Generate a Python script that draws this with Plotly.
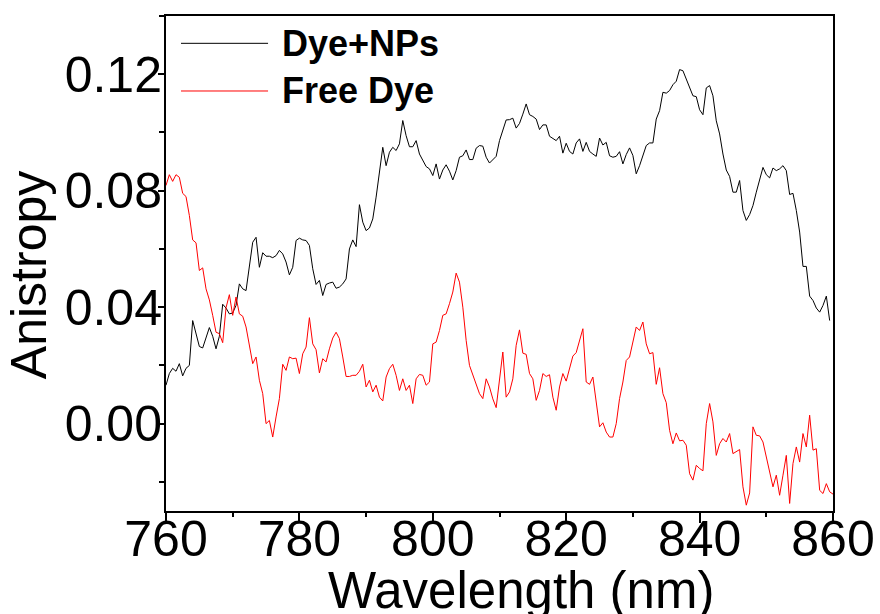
import plotly.graph_objects as go

# Anisotropy spectra sampled every 0.5 nm from 760 nm
wl_start = 760.0
wl_step = 0.5

dye_nps = [
    0.0132, 0.0172, 0.0190, 0.0180, 0.0206, 0.0164, 0.0190, 0.0200, 0.0354, 0.0310,
    0.0265, 0.0260, 0.0297, 0.0330, 0.0300, 0.0257, 0.0300, 0.0410, 0.0397, 0.0377,
    0.0380, 0.0406, 0.0480, 0.0463, 0.0457, 0.0550, 0.0623, 0.0640, 0.0537, 0.0587,
    0.0575, 0.0575, 0.0570, 0.0577, 0.0595, 0.0583, 0.0555, 0.0511, 0.0537, 0.0629,
    0.0637, 0.0631, 0.0629, 0.0612, 0.0532, 0.0478, 0.0492, 0.0440, 0.0478, 0.0483,
    0.0486, 0.0465, 0.0469, 0.0480, 0.0497, 0.0600, 0.0631, 0.0608, 0.0752, 0.0692,
    0.0663, 0.0672, 0.0703, 0.0778, 0.0869, 0.0949, 0.0886, 0.0932, 0.0949, 0.0938,
    0.0961, 0.1041, 0.0989, 0.0951, 0.0951, 0.0972, 0.0926, 0.0906, 0.0883, 0.0875,
    0.0852, 0.0892, 0.0840, 0.0871, 0.0889, 0.0867, 0.0837, 0.0869, 0.0915, 0.0920,
    0.0940, 0.0907, 0.0907, 0.0946, 0.0955, 0.0953, 0.0915, 0.0895, 0.0906, 0.0918,
    0.0972, 0.1012, 0.1043, 0.1044, 0.1049, 0.1015, 0.1031, 0.1063, 0.1098, 0.1061,
    0.1055, 0.1046, 0.1010, 0.1026, 0.1026, 0.0987, 0.0978, 0.0972, 0.0987, 0.0929,
    0.0963, 0.0935, 0.0926, 0.0964, 0.0978, 0.0935, 0.0966, 0.0935, 0.0926, 0.0918,
    0.0981, 0.0957, 0.0966, 0.0920, 0.0915, 0.0918, 0.0934, 0.0892, 0.0924, 0.0947,
    0.0921, 0.0858, 0.0886, 0.0921, 0.0955, 0.0964, 0.0964, 0.1046, 0.1075, 0.1138,
    0.1135, 0.1144, 0.1164, 0.1176, 0.1216, 0.1212, 0.1184, 0.1153, 0.1126, 0.1123,
    0.1078, 0.1061, 0.1153, 0.1161, 0.1126, 0.1040, 0.0995, 0.0926, 0.0871, 0.0849,
    0.0795, 0.0795, 0.0835, 0.0732, 0.0698, 0.0718, 0.0749, 0.0795, 0.0840, 0.0880,
    0.0855, 0.0844, 0.0878, 0.0869, 0.0875, 0.0886, 0.0869, 0.0787, 0.0791, 0.0732,
    0.0658, 0.0540, 0.0540, 0.0438, 0.0423, 0.0397, 0.0383, 0.0406, 0.0438, 0.0354,
]

free_dye = [
    0.0818, 0.0855, 0.0832, 0.0855, 0.0846, 0.0791, 0.0780, 0.0715, 0.0631, 0.0621,
    0.0526, 0.0535, 0.0463, 0.0425, 0.0372, 0.0314, 0.0309, 0.0278, 0.0398, 0.0443,
    0.0372, 0.0435, 0.0377, 0.0369, 0.0332, 0.0274, 0.0206, 0.0229, 0.0149, 0.0103,
    0.0000, 0.0011, -0.0046, 0.0023, 0.0086, 0.0204, 0.0183, 0.0229, 0.0223, 0.0225,
    0.0172, 0.0240, 0.0263, 0.0364, 0.0274, 0.0254, 0.0174, 0.0223, 0.0212, 0.0257,
    0.0294, 0.0314, 0.0292, 0.0229, 0.0162, 0.0162, 0.0166, 0.0166, 0.0180, 0.0204,
    0.0126, 0.0149, 0.0109, 0.0132, 0.0091, 0.0078, 0.0160, 0.0189, 0.0204, 0.0166,
    0.0114, 0.0154, 0.0114, 0.0132, 0.0069, 0.0154, 0.0169, 0.0166, 0.0132, 0.0143,
    0.0274, 0.0280, 0.0320, 0.0372, 0.0377, 0.0412, 0.0452, 0.0517, 0.0486, 0.0400,
    0.0286, 0.0200, 0.0166, 0.0132, 0.0103, 0.0086, 0.0154, 0.0126, 0.0085, 0.0055,
    0.0150, 0.0246, 0.0091, 0.0109, 0.0154, 0.0269, 0.0322, 0.0242, 0.0238, 0.0172,
    0.0154, 0.0080, 0.0114, 0.0172, 0.0162, 0.0168, 0.0091, 0.0046, 0.0126, 0.0172,
    0.0146, 0.0194, 0.0232, 0.0244, 0.0286, 0.0326, 0.0143, 0.0135, 0.0160, 0.0074,
    -0.0011, 0.0003, -0.0029, -0.0046, -0.0046, 0.0000, 0.0086, 0.0143, 0.0217, 0.0229,
    0.0286, 0.0332, 0.0320, 0.0349, 0.0274, 0.0240, 0.0244, 0.0135, 0.0192, 0.0103,
    0.0072, -0.0023, -0.0069, -0.0032, -0.0059, -0.0057, -0.0074, -0.0172, -0.0194, -0.0143,
    -0.0154, -0.0162, 0.0000, 0.0069, 0.0006, -0.0109, -0.0069, -0.0051, -0.0063, -0.0034,
    -0.0103, -0.0097, -0.0089, -0.0217, -0.0280, -0.0238, -0.0011, -0.0040, -0.0042, -0.0063,
    -0.0114, -0.0166, -0.0217, -0.0177, -0.0246, -0.0177, -0.0109, -0.0274, -0.0137, -0.0080,
    -0.0132, -0.0034, -0.0080, 0.0029, -0.0091, -0.0086, -0.0229, -0.0240, -0.0206, -0.0234,
    -0.0242,
]

x_ticks = [760, 780, 800, 820, 840, 860]
y_ticks = [0.00, 0.04, 0.08, 0.12]
series_names = ["Dye+NPs", "Free Dye"]
series_colors = ["#000000", "#ff0000"]

wl_nps = [wl_start + wl_step * i for i in range(len(dye_nps))]
wl_free = [wl_start + wl_step * i for i in range(len(free_dye))]

FONT = "Liberation Sans, Arial, sans-serif"

fig = go.Figure()
for xs, ys, name, color in zip([wl_nps, wl_free], [dye_nps, free_dye], series_names, series_colors):
    fig.add_trace(go.Scatter(x=xs, y=ys, mode="lines", name=name,
                             line=dict(color=color, width=1), showlegend=False))

# Hand-drawn legend: long line samples with bold labels
legend_y = [0.9448, 0.8485]
for name, color, ly in zip(series_names, series_colors, legend_y):
    fig.add_shape(type="line", xref="paper", yref="paper",
                  x0=0.0225, x1=0.153, y0=ly, y1=ly,
                  line=dict(color=color, width=1))
    fig.add_annotation(xref="paper", yref="paper", x=0.1709, y=ly,
                       xanchor="left", yanchor="middle", showarrow=False,
                       text="<b>%s</b>" % name,
                       font=dict(family=FONT, size=36, color="black"))

# Axis titles
fig.add_annotation(xref="paper", yref="paper", x=0.5315, y=-0.16,
                   xanchor="center", yanchor="middle", showarrow=False,
                   text="Wavelength (nm)",
                   font=dict(family=FONT, size=51, color="black"))
fig.add_annotation(xref="paper", yref="paper", x=-0.205, y=0.477,
                   xanchor="center", yanchor="middle", showarrow=False,
                   text="Anistropy", textangle=-90,
                   font=dict(family=FONT, size=50, color="black"))

fig.update_layout(
    width=880, height=614,
    margin=dict(l=166, r=47, t=16, b=103, autoexpand=False),
    paper_bgcolor="white", plot_bgcolor="white",
    font=dict(family=FONT, color="black"),
    xaxis=dict(range=[760, 860], tickmode="array", tickvals=x_ticks,
               ticktext=[str(v) for v in x_ticks], automargin=False,
               ticks="outside", ticklen=10, tickwidth=2, tickcolor="black",
               ticklabelstandoff=-27,
               minor=dict(tickmode="linear", tick0=770, dtick=20, ticks="outside",
                          ticklen=4, tickwidth=2, tickcolor="black"),
               showline=True, linewidth=2, linecolor="black", mirror=True,
               showgrid=False, zeroline=False,
               tickfont=dict(family=FONT, size=50, color="black")),
    yaxis=dict(range=[-0.030, 0.140], tickmode="array", tickvals=y_ticks,
               ticktext=["%.2f" % v for v in y_ticks], automargin=False,
               ticks="outside", ticklen=6, tickwidth=2, tickcolor="black",
               ticklabelstandoff=-14,
               minor=dict(tickmode="linear", tick0=-0.02, dtick=0.04, ticks="outside",
                          ticklen=5, tickwidth=2, tickcolor="black"),
               showline=True, linewidth=2, linecolor="black", mirror=True,
               showgrid=False, zeroline=False,
               tickfont=dict(family=FONT, size=50, color="black")),
)

fig.write_html("out.html")
